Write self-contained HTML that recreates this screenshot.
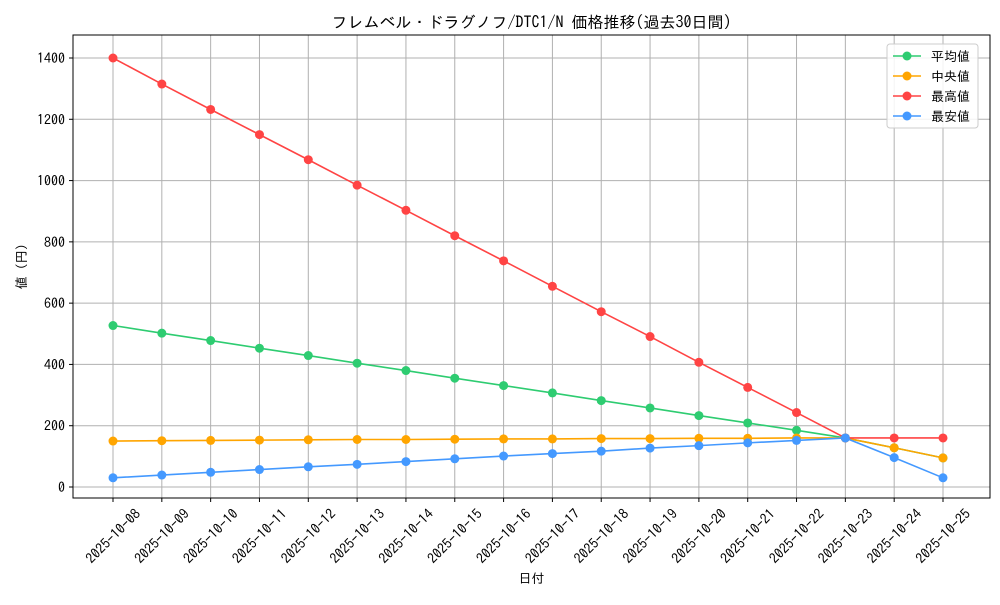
<!DOCTYPE html>
<html><head><meta charset="utf-8"><style>
body{margin:0;background:#fff}
text{font-family:"IPAGothic","Liberation Sans","Noto Sans CJK JP",sans-serif}
</style></head><body>
<svg id="chart" width="1000" height="600" xmlns="http://www.w3.org/2000/svg"></svg>
<script>
const dates=["2025-10-08","2025-10-09","2025-10-10","2025-10-11","2025-10-12","2025-10-13","2025-10-14","2025-10-15","2025-10-16","2025-10-17","2025-10-18","2025-10-19","2025-10-20","2025-10-21","2025-10-22","2025-10-23","2025-10-24","2025-10-25"];
const avgVals=[527,502,478,453,429,404,380,355,331,307,282,258,233,209,185,160,128,95];
const medVals=[150,151,152,153,154,155,155,156,157,157,158,158,159,159,160,160,128,95];
const maxVals=[1400,1315,1232,1150,1068,985,903,820,738,655,572,491,407,325,243,160,160,160];
const minVals=[30,39,48,57,66,74,83,92,101,109,117,127,135,144,152,160,96,30];
const yTicks=[0,200,400,600,800,1000,1200,1400];
const seriesNames=["平均値","中央値","最高値","最安値"];
const svg=document.getElementById('chart');
const NS="http://www.w3.org/2000/svg";
const L=73,R=990,T=35,B=498;
const x0=113,dx=(943-113)/17;
const X=i=>x0+i*dx;
const Y=v=>487-v*(487-58)/1400;
function el(t,a,p){const e=document.createElementNS(NS,t);for(const k in a)e.setAttribute(k,a[k]);(p||svg).appendChild(e);return e;}
dates.forEach((d,i)=>{
 const g=el('line',{x1:X(i),x2:X(i),y1:T,y2:B,stroke:'#b0b0b0','stroke-width':1});
 
 
 el('line',{x1:X(i),x2:X(i),y1:B,y2:B+4,stroke:'#000'});
 const cy=536;
 const t=el('text',{x:X(i),y:cy+5,'font-size':14,'text-anchor':'middle',transform:`rotate(-45 ${X(i)} ${cy})`});
 t.textContent=d;
 
 
});
yTicks.forEach(v=>{
 const g=el('line',{x1:L,x2:R,y1:Y(v),y2:Y(v),stroke:'#b0b0b0','stroke-width':1});
 
 
 el('line',{x1:L-4,x2:L,y1:Y(v),y2:Y(v),stroke:'#000'});
 const t=el('text',{x:L-8,y:Y(v)+5,'font-size':14,'text-anchor':'end'});
 t.textContent=v;
 
 
});
const frame=el('rect',{x:L,y:T,width:R-L,height:B-T,fill:'none',stroke:'#000','stroke-width':1});


const series=[[avgVals,'#2ecc71'],[medVals,'#ffa500'],[maxVals,'#ff4444'],[minVals,'#4499ff']];
series.forEach(([vals,c],si)=>{
 const p=el('polyline',{points:vals.map((v,i)=>X(i)+','+Y(v)).join(' '),fill:'none',stroke:c,'stroke-width':1.6});
 
 
 vals.forEach((v,i)=>{
  const m=el('circle',{cx:X(i),cy:Y(v),r:4.5,fill:c});
  
  
 });
});
const lg=el('g',{});


el('rect',{x:887,y:44,width:91,height:84,rx:3,fill:'#fff','fill-opacity':0.85,stroke:'#ccc'},lg);
series.forEach(([v,c],i)=>{
 const y=56+i*20;
 el('line',{x1:893,x2:921,y1:y,y2:y,stroke:c,'stroke-width':1.6},lg);
 el('circle',{cx:907,cy:y,r:4.5,fill:c},lg);
 const t=el('text',{x:931,y:y+5,'font-size':13},lg);
 t.textContent=seriesNames[i];
 
 
});
const title=el('text',{x:(L+R)/2,y:28,'font-size':16,'text-anchor':'middle'});
title.textContent='フレムベル・ドラグノフ/DTC1/N 価格推移(過去30日間)';


const xl=el('text',{x:(L+R)/2,y:583,'font-size':13,'text-anchor':'middle'});
xl.textContent='日付';


const yl=el('text',{x:26,y:(T+B)/2,'font-size':13,'text-anchor':'middle',transform:`rotate(-90 26 ${(T+B)/2})`});
yl.textContent='値 (円)';


</script>
</body></html>
